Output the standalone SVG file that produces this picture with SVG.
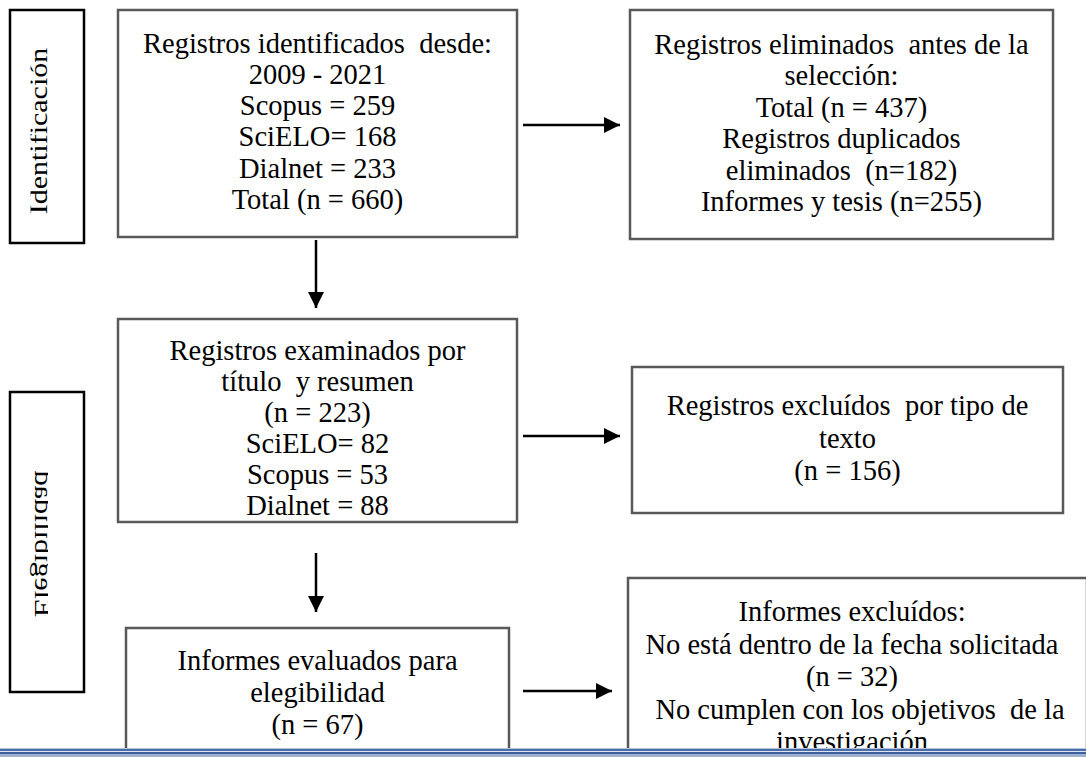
<svg xmlns="http://www.w3.org/2000/svg" width="1086" height="757" viewBox="0 0 1086 757">
<style>
.box{fill:#fff;stroke:#595959;stroke-width:2.5}
.side{fill:#fff;stroke:#000;stroke-width:2.5}
.t{font-family:"Liberation Serif","Times New Roman",serif;font-size:28.5px;fill:#000;text-anchor:middle;white-space:pre}
.s{font-family:"Liberation Serif","Times New Roman",serif;font-size:30px;fill:#000;text-anchor:middle}
.c{stroke:#000;stroke-width:2.5;fill:none}
</style>
<defs>
<marker id="ah" viewBox="0 0 16 16" refX="16" refY="8" markerWidth="16" markerHeight="16" markerUnits="userSpaceOnUse" orient="auto">
<path d="M0,0 L16,8 L0,16 Z" fill="#000"/>
</marker>
<clipPath id="clipId"><rect x="30.5" y="10" width="53" height="233"/></clipPath>
<clipPath id="clipEl"><rect x="10" y="392" width="38" height="300"/></clipPath>
</defs>
<rect width="1086" height="757" fill="#fff"/>

<g id="side-identificacion">
<rect class="side" x="10" y="10" width="74" height="233"/>
<g clip-path="url(#clipId)">
<text class="s" transform="translate(47,131) rotate(-90) scale(1,0.86)" x="0" y="0">Identificación</text>
</g>
</g>

<g id="side-elegibilidad">
<rect class="side" x="10" y="392" width="74" height="300"/>
<g clip-path="url(#clipEl)">
<text class="s" transform="matrix(0,-1,-1,0,35,544) scale(1,0.86)" x="0" y="0">Elegibilidad</text>
</g>
</g>

<g id="box-identificados">
<rect class="box" x="118" y="10" width="399" height="227"/>
<text class="t" x="317.5" y="53">Registros identificados  desde:</text>
<text class="t" x="317.5" y="84">2009 - 2021</text>
<text class="t" x="317.5" y="115">Scopus = 259</text>
<text class="t" x="317.5" y="146">SciELO= 168</text>
<text class="t" x="317.5" y="178">Dialnet = 233</text>
<text class="t" x="317.5" y="209">Total (n = 660)</text>
</g>

<g id="box-eliminados">
<rect class="box" x="630" y="10" width="423" height="229"/>
<text class="t" x="841.5" y="54">Registros eliminados  antes de la</text>
<text class="t" x="841.5" y="85">selección:</text>
<text class="t" x="841.5" y="117">Total (n = 437)</text>
<text class="t" x="841.5" y="148">Registros duplicados</text>
<text class="t" x="841.5" y="180">eliminados  (n=182)</text>
<text class="t" x="841.5" y="211">Informes y tesis (n=255)</text>
</g>

<g id="box-examinados">
<rect class="box" x="118" y="319" width="399" height="203"/>
<text class="t" x="317.5" y="360">Registros examinados por</text>
<text class="t" x="317.5" y="391">título  y resumen</text>
<text class="t" x="317.5" y="422">(n = 223)</text>
<text class="t" x="317.5" y="453">SciELO= 82</text>
<text class="t" x="317.5" y="484">Scopus = 53</text>
<text class="t" x="317.5" y="515">Dialnet = 88</text>
</g>

<g id="box-excluidos-tipo">
<rect class="box" x="632" y="367" width="431" height="146"/>
<text class="t" x="847.5" y="415">Registros excluídos  por tipo de</text>
<text class="t" x="847.5" y="448">texto</text>
<text class="t" x="847.5" y="480">(n = 156)</text>
</g>

<g id="box-evaluados">
<rect class="box" x="126" y="628" width="383" height="140"/>
<text class="t" x="317.5" y="670">Informes evaluados para</text>
<text class="t" x="317.5" y="702">elegibilidad</text>
<text class="t" x="317.5" y="734">(n = 67)</text>
</g>

<g id="box-informes-excluidos">
<rect class="box" x="628" y="578" width="459" height="190"/>
<text class="t" x="852" y="621">Informes excluídos:</text>
<text class="t" x="852" y="654">No está dentro de la fecha solicitada</text>
<text class="t" x="852" y="686">(n = 32)</text>
<text class="t" x="860" y="719">No cumplen con los objetivos  de la</text>
<text class="t" x="852" y="751">investigación</text>
</g>

<g id="connectors">
<line class="c" x1="523" y1="125" x2="620" y2="125" marker-end="url(#ah)"/>
<line class="c" x1="316" y1="240" x2="316" y2="308" marker-end="url(#ah)"/>
<line class="c" x1="523" y1="436" x2="620" y2="436" marker-end="url(#ah)"/>
<line class="c" x1="316" y1="553" x2="316" y2="612" marker-end="url(#ah)"/>
<line class="c" x1="523" y1="691" x2="612" y2="691" marker-end="url(#ah)"/>
</g>

<g id="page-rule">
<rect x="0" y="748" width="1086" height="1" fill="#b4c2dc"/>
<rect x="0" y="749" width="1086" height="2" fill="#4a6cab"/>
<rect x="0" y="751" width="1086" height="1" fill="#dfe5f0"/>
<rect x="0" y="752" width="1086" height="2" fill="#3f5f9f"/>
<rect x="0" y="754" width="1086" height="3" fill="#9fb0cf"/>
</g>
</svg>
